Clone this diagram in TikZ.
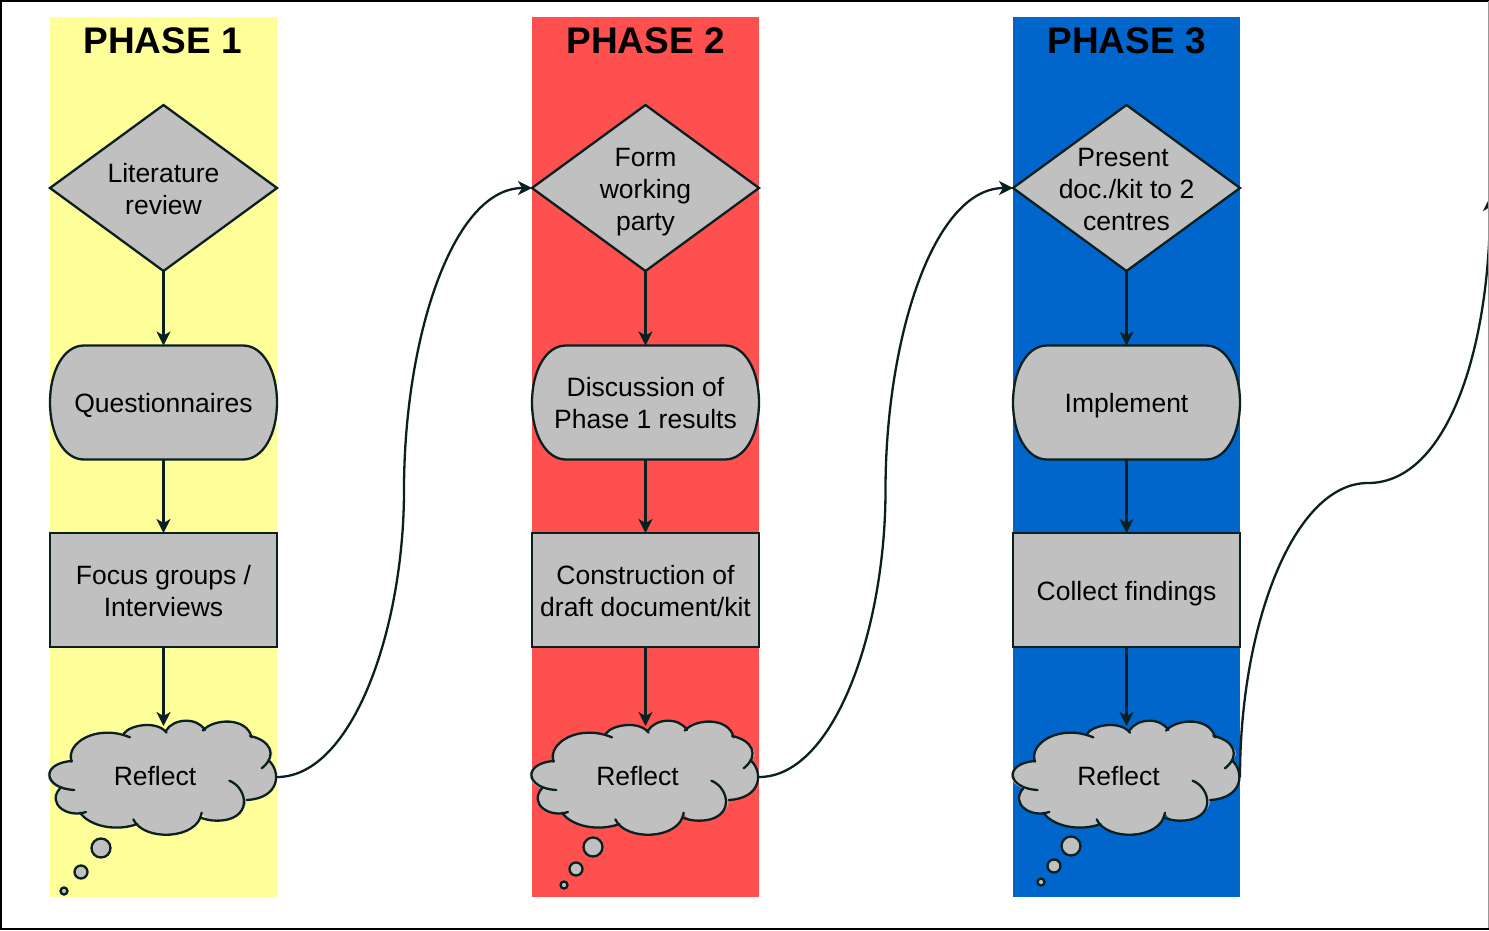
\documentclass[tikz,border=0pt]{standalone}
\usepackage{fontspec}
\setmainfont{Liberation Sans}
\usetikzlibrary{shapes.geometric,arrows.meta}
\definecolor{ink}{HTML}{0A2020}
\definecolor{boxgray}{HTML}{C0C0C0}
\definecolor{phaseA}{HTML}{FFFF99}
\definecolor{phaseB}{HTML}{FF5050}
\definecolor{phaseC}{HTML}{0066CC}
\tikzset{
  band/.style={anchor=north west,minimum width=227pt,minimum height=880pt,inner sep=0,outer sep=0},
  phasetitle/.style={font=\fontsize{37}{40}\bfseries\selectfont,text=black,inner sep=0},
  lab/.style={font=\fontsize{26.5}{32}\selectfont,text=black,align=center,inner sep=0},
  dia/.style={diamond,draw=ink,fill=boxgray,line width=2.3pt,minimum width=227pt,minimum height=166pt,aspect=1.37,inner sep=0,outer sep=0},
  pill/.style={rectangle,minimum width=227pt,minimum height=114pt,inner sep=0,outer sep=0},
  boxnode/.style={rectangle,draw=ink,fill=boxgray,line width=2.3pt,minimum width=227pt,minimum height=114pt,inner sep=0,outer sep=0},
  flow/.style={draw=ink,line width=2.3pt,-{Stealth[length=14pt,width=14pt,inset=4pt]}},
  outline/.style={draw=ink,line width=2.3pt,line cap=round},
  bubble/.style={circle,draw=ink,fill=boxgray,line width=2.3pt,inner sep=0,outer sep=0},
}
\newcommand{\pillshape}[5]{% name, centre x, centre y, text shift, text
  \node[pill] (#1) at (#2,#3) {};
  \draw[outline,fill=boxgray]
    ([xshift=34pt]#1.north west) -- ([xshift=-34pt]#1.north east)
    .. controls ([xshift=-14pt]#1.north east) and ([yshift=32pt]#1.east) .. (#1.east)
    .. controls ([yshift=-32pt]#1.east) and ([xshift=-14pt]#1.south east) .. ([xshift=-34pt]#1.south east)
    -- ([xshift=34pt]#1.south west)
    .. controls ([xshift=14pt]#1.south west) and ([yshift=-32pt]#1.west) .. (#1.west)
    .. controls ([yshift=32pt]#1.west) and ([xshift=14pt]#1.north west) .. ([xshift=34pt]#1.north west) -- cycle;
  \node[lab,yshift=#4] (#1text) at (#1.center) {#5};
}
\newcommand{\cloudshape}[2]{% x origin, y origin
  \begin{scope}[shift={(#1,#2)},x=0.33333pt,y=-0.33333pt]
    \fill[boxgray] (125,185) .. controls (105,130) and (200,70) .. (300,112)
      -- (282,100) .. controls (300,75) and (380,60) .. (410,98)
      -- (408,92) .. controls (430,55) and (500,50) .. (525,90)
      -- (518,92) .. controls (550,55) and (650,50) .. (665,112)
      -- (660,108) .. controls (720,120) and (745,165) .. (715,180)
      .. controls (755,215) and (750,295) .. (650,300)
      .. controls (650,335) and (610,362) .. (560,362)
      .. controls (540,362) and (525,358) .. (515,338)
      .. controls (505,420) and (340,425) .. (310,358)
      -- (322,372) .. controls (260,395) and (180,380) .. (150,338)
      -- (168,336) .. controls (110,355) and (50,310) .. (90,265)
      .. controls (40,250) and (30,190) .. (125,183) -- cycle;
    \draw[outline] (125,185) .. controls (105,130) and (200,70) .. (300,112);
    \draw[outline] (282,100) .. controls (300,75) and (380,60) .. (410,98);
    \draw[outline] (408,92) .. controls (430,55) and (500,50) .. (525,90);
    \draw[outline] (518,92) .. controls (550,55) and (650,50) .. (665,112);
    \draw[outline] (660,108) .. controls (720,120) and (745,165) .. (695,205);
    \draw[outline] (715,180) .. controls (755,215) and (750,295) .. (650,300);
    \draw[outline] (598,242) .. controls (655,265) and (670,362) .. (560,362) .. controls (540,362) and (525,358) .. (510,352);
    \draw[outline] (515,338) .. controls (505,420) and (340,425) .. (310,358);
    \draw[outline] (322,372) .. controls (260,395) and (180,380) .. (150,338);
    \draw[outline] (168,336) .. controls (110,355) and (50,310) .. (90,265);
    \draw[outline] (133,270) .. controls (40,265) and (30,190) .. (125,183);
  \end{scope}
}
\begin{document}
\begin{tikzpicture}[x=1pt,y=-1pt]
\useasboundingbox (0,0) rectangle (1489,930);
\begin{scope}
\clip (0,0) rectangle (1489,930);
% bands
\node[band,fill=phaseA] (bandA) at (50,17) {};
\node[band,fill=phaseB] (bandB) at (532,17) {};
\node[band,fill=phaseC] (bandC) at (1013,17) {};
\node[phasetitle] (titleA) at (162.5,40.5) {PHASE 1};
\node[phasetitle] (titleB) at (645.5,40.5) {PHASE 2};
\node[phasetitle] (titleC) at (1126.5,40.5) {PHASE 3};
% diamonds
\node[dia,label={[lab,yshift=-1pt]center:Literature\\review}] (litA) at (163.5,188) {};
\node[dia,label={[lab,yshift=-4pt]center:Form\\working\\party}] (litB) at (645.5,188) {};
\node[dia,label={[lab,yshift=-2pt]center:Present\hspace*{7pt}\\doc./kit to 2\\centres}] (litC) at (1126.5,188) {};
% pills
\pillshape{pillA}{163.5}{402.5}{-3pt}{Questionnaires}
\pillshape{pillB}{645.5}{402.5}{-1pt}{Discussion of\\Phase 1 results}
\pillshape{pillC}{1126.5}{402.5}{-3pt}{Implement}
% boxes
\node[boxnode,label={[lab,yshift=-1pt]center:Focus groups /\\Interviews}] (boxA) at (163.5,590) {};
\node[boxnode,label={[lab,yshift=-1pt]center:Construction of\\draft document/kit}] (boxB) at (645.5,590) {};
\node[boxnode,label={[lab,yshift=-4pt]center:Collect findings}] (boxC) at (1126.5,590) {};
% clouds
\cloudshape{30}{700}
\cloudshape{512}{700}
\cloudshape{993.3}{700}
\node[lab] (refA) at (155,776) {Reflect};
\node[lab] (refB) at (637.5,776) {Reflect};
\node[lab] (refC) at (1118.5,776) {Reflect};
\coordinate (cloudAn) at (163.5,726);
\coordinate (cloudBn) at (645.5,726);
\coordinate (cloudCn) at (1126.5,726);
\coordinate (cloudAe) at (277,777);
\coordinate (cloudBe) at (759,777);
\coordinate (cloudCe) at (1240,777);
% bubbles
\node[bubble,minimum size=19pt] (bA1) at (101,848) {};
\node[bubble,minimum size=13pt] (bA2) at (81,872) {};
\node[bubble,minimum size=7pt] (bA3) at (64,891) {};
\node[bubble,minimum size=19pt] (bB1) at (593,847) {};
\node[bubble,minimum size=13pt] (bB2) at (576,869) {};
\node[bubble,minimum size=7pt] (bB3) at (564,885) {};
\node[bubble,minimum size=19pt] (bC1) at (1071,846) {};
\node[bubble,minimum size=13pt] (bC2) at (1054,866) {};
\node[bubble,minimum size=7pt] (bC3) at (1041,882) {};
% vertical flows
\foreach \c in {A,B,C}{
  \draw[flow] (lit\c.south) -- (pill\c.north);
  \draw[flow] (pill\c.south) -- (box\c.north);
  \draw[flow] (box\c.south) -- (cloud\c n);
}
% long curves
\coordinate (midA) at (404,490);
\coordinate (midB) at (885.5,490);
\coordinate (midC) at (1368,483);
\coordinate (offR) at (1490,197);
\draw[flow] (cloudAe) .. controls +(75,0) and +(0,140) .. (midA) .. controls +(0,-150) and +(-80,0) .. (litB.west);
\draw[flow] (cloudBe) .. controls +(75,0) and +(0,140) .. (midB) .. controls +(0,-150) and +(-80,0) .. (litC.west);
\draw[flow] (cloudCe) .. controls +(0,-150) and +(-75,0) .. (midC) .. controls +(80,0) and +(0,150) .. (offR);
% frame
\draw[black,line width=2pt] (1489,1) -- (1,1) -- (1,928.5) -- (1489,928.5);
\draw[black!40,line width=1pt] (1488.5,1) -- (1488.5,928);
\end{scope}
\end{tikzpicture}
\end{document}
